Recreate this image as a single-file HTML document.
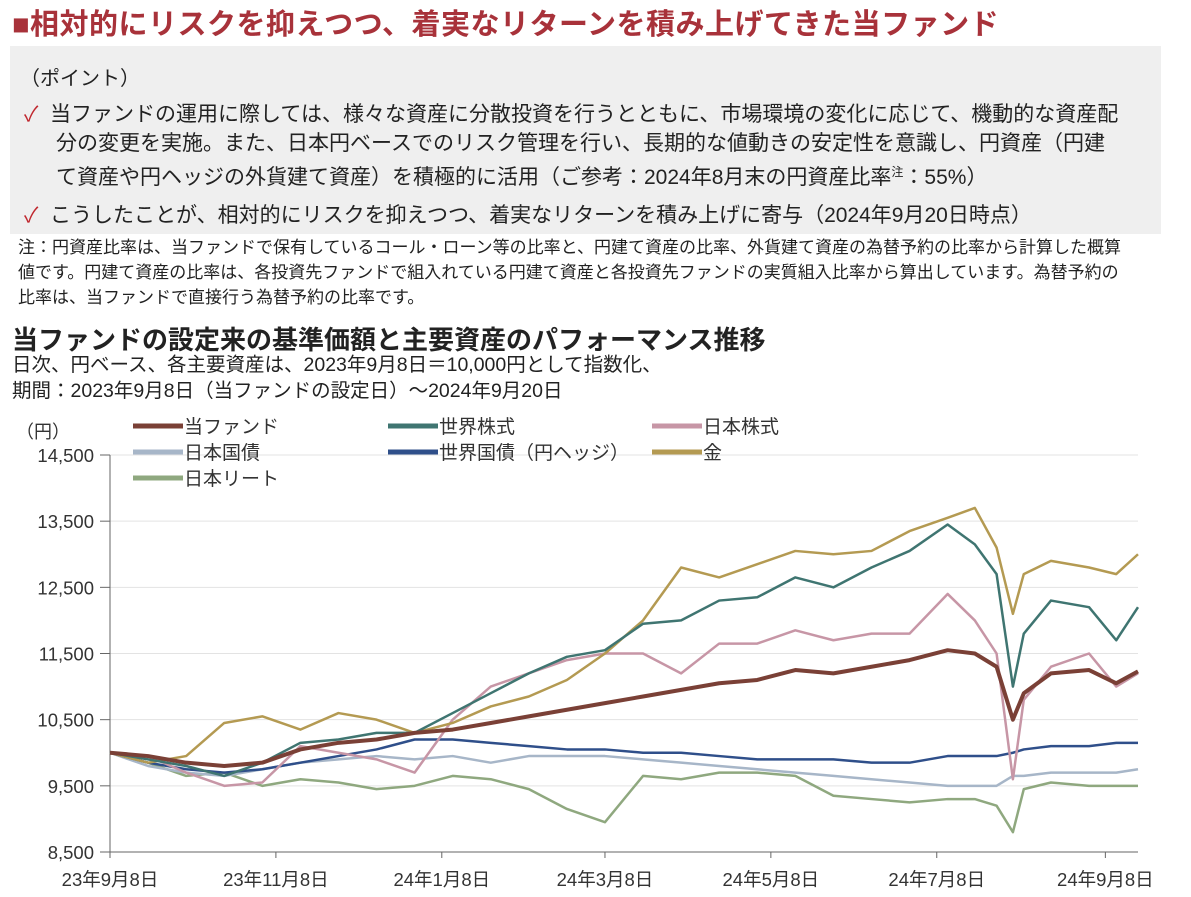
<!DOCTYPE html>
<html><head><meta charset="utf-8"><style>
body{margin:0;width:1191px;height:897px;background:#fff;font-family:"Liberation Sans","Noto Sans CJK JP",sans-serif;color:#222;overflow:hidden;position:relative}
.a{position:absolute;white-space:nowrap}
</style></head><body>
<div class="a" style="left:12px;top:1px;font-size:29px;font-weight:bold;color:#a8323a;letter-spacing:0.5px">■相対的にリスクを抑えつつ、着実なリターンを積み上げてきた当ファンド</div>
<div class="a" style="left:10px;top:46px;width:1151px;height:188px;background:#efefef"></div>
<div class="a" style="left:20px;top:62px;font-size:20px">（ポイント）</div>
<div class="a" style="left:24px;top:100px;font-size:21px;line-height:29px">
<span style="color:#c0282f">✓</span>&nbsp; 当ファンドの運用に際しては、様々な資産に分散投資を行うとともに、市場環境の変化に応じて、機動的な資産配<br>
<span style="padding-left:32px">分の変更を実施。また、日本円ベースでのリスク管理を行い、長期的な値動きの安定性を意識し、円資産（円建</span><br>
<span style="padding-left:32px">て資産や円ヘッジの外貨建て資産）を積極的に活用（ご参考：2024年8月末の円資産比率<sup style="font-size:12px">注</sup>：55%）</span></div>
<div class="a" style="left:24px;top:199px;font-size:21px"><span style="color:#c0282f">✓</span>&nbsp; こうしたことが、相対的にリスクを抑えつつ、着実なリターンを積み上げに寄与（2024年9月20日時点）</div>
<div class="a" style="left:18px;top:235px;font-size:17px;line-height:25px">注：円資産比率は、当ファンドで保有しているコール・ローン等の比率と、円建て資産の比率、外貨建て資産の為替予約の比率から計算した概算<br>値です。円建て資産の比率は、各投資先ファンドで組入れている円建て資産と各投資先ファンドの実質組入比率から算出しています。為替予約の<br>比率は、当ファンドで直接行う為替予約の比率です。</div>
<div class="a" style="left:12px;top:320px;font-size:26px;font-weight:bold">当ファンドの設定来の基準価額と主要資産のパフォーマンス推移</div>
<div class="a" style="left:12px;top:352px;font-size:19.5px;line-height:26px">日次、円ベース、各主要資産は、2023年9月8日＝10,000円として指数化、<br>期間：2023年9月8日（当ファンドの設定日）～2024年9月20日</div>
<svg class="a" style="left:0;top:0" width="1191" height="897" id="svg"></svg>
<script>
const days=[0,14,28,42,56,70,84,98,112,126,140,154,168,182,196,210,224,238,252,266,280,294,308,318,326,332,336,346,360,370,378];
const fund=[10000,9950,9850,9800,9850,10050,10150,10200,10300,10350,10450,10550,10650,10750,10850,10950,11050,11100,11250,11200,11300,11400,11550,11500,11300,10500,10900,11200,11250,11050,11230];
const worldStocks=[10000,9900,9800,9650,9850,10150,10200,10300,10300,10600,10900,11200,11450,11550,11950,12000,12300,12350,12650,12500,12800,13050,13450,13150,12700,11000,11800,12300,12200,11700,12200];
const japanStocks=[10000,9950,9700,9500,9550,10100,10000,9900,9700,10500,11000,11200,11400,11500,11500,11200,11650,11650,11850,11700,11800,11800,12400,12000,11500,9600,10800,11300,11500,11000,11200];
const japanBonds=[10000,9800,9700,9650,9750,9850,9900,9950,9900,9950,9850,9950,9950,9950,9900,9850,9800,9750,9700,9650,9600,9550,9500,9500,9500,9650,9650,9700,9700,9700,9750];
const worldBonds=[10000,9850,9750,9700,9750,9850,9950,10050,10200,10200,10150,10100,10050,10050,10000,10000,9950,9900,9900,9900,9850,9850,9950,9950,9950,10000,10050,10100,10100,10150,10150];
const gold=[10000,9850,9950,10450,10550,10350,10600,10500,10300,10450,10700,10850,11100,11500,12000,12800,12650,12850,13050,13000,13050,13350,13550,13700,13100,12100,12700,12900,12800,12700,13000];
const reit=[10000,9850,9650,9700,9500,9600,9550,9450,9500,9650,9600,9450,9150,8950,9650,9600,9700,9700,9650,9350,9300,9250,9300,9300,9200,8800,9450,9550,9500,9500,9500];
const yTicks=[8500,9500,10500,11500,12500,13500,14500];
const xTickDays=[0,61,122,182,243,304,366];
const xTickLabels=["23年9月8日","23年11月8日","24年1月8日","24年3月8日","24年5月8日","24年7月8日","24年9月8日"];
const x=d=>110+d*(1028/378), y=v=>455+(14500-v)*(397/6000);
const svg=document.getElementById('svg'),NS='http://www.w3.org/2000/svg';
function mk(t,a,txt){const e=document.createElementNS(NS,t);for(const k in a)e.setAttribute(k,a[k]);if(txt!=null)e.textContent=txt;svg.appendChild(e);return e;}
yTicks.forEach(v=>{
 const g=mk('line',{x1:110,x2:1138,y1:y(v),y2:y(v),stroke:'#e3e3e3'});
 
 
 const t=mk('text',{x:94,y:y(v)+7,'text-anchor':'end','font-size':18.5,fill:'#333'},v.toLocaleString('en-US'));
 
 
 mk('line',{x1:100,x2:110,y1:y(v),y2:y(v),stroke:'#666'});
});
const yu=mk('text',{x:16,y:438,'font-size':18,fill:'#333'},'（円）');


mk('line',{x1:110,x2:110,y1:455,y2:852,stroke:'#666'});
mk('line',{x1:110,x2:1138,y1:852,y2:852,stroke:'#666'});
xTickDays.forEach((d,i)=>{
 mk('line',{x1:x(d),x2:x(d),y1:852,y2:858,stroke:'#666'});
 const t=mk('text',{x:x(d),y:886,'text-anchor':'middle','font-size':18.5,fill:'#333'},xTickLabels[i]);
 
 
});
const series=[["日本リート",reit,'#8fa87f','series-japan-reit'],["日本国債",japanBonds,'#a7b6c8','series-japan-bonds'],["世界国債（円ヘッジ）",worldBonds,'#2f4f8a','series-world-bonds'],["日本株式",japanStocks,'#c796a6','series-japan-stocks'],["金",gold,'#b49a52','series-gold'],["世界株式",worldStocks,'#3f7571','series-world-stocks'],["当ファンド",fund,'#7a4036','series-fund']];
series.forEach(s=>{
 const p=mk('polyline',{points:days.map((d,i)=>x(d)+','+y(s[1][i])).join(' '),fill:'none',stroke:s[2],'stroke-width':s[3]=='series-fund'?4:2.5,'stroke-linejoin':'round'});
 
 
});
const leg=[["当ファンド",'#7a4036',133,426],["世界株式",'#3f7571',388,426],["日本株式",'#c796a6',652,426],["日本国債",'#a7b6c8',133,452],["世界国債（円ヘッジ）",'#2f4f8a',388,452],["金",'#b49a52',652,452],["日本リート",'#8fa87f',133,478]];
leg.forEach(l=>{
 const ln=mk('line',{x1:l[2],x2:l[2]+50,y1:l[3],y2:l[3],stroke:l[1],'stroke-width':5});
 
 
 const t=mk('text',{x:l[2]+51,y:l[3]+7,'font-size':19,fill:'#333'},l[0]);
 
 
});
</script>
</body></html>
